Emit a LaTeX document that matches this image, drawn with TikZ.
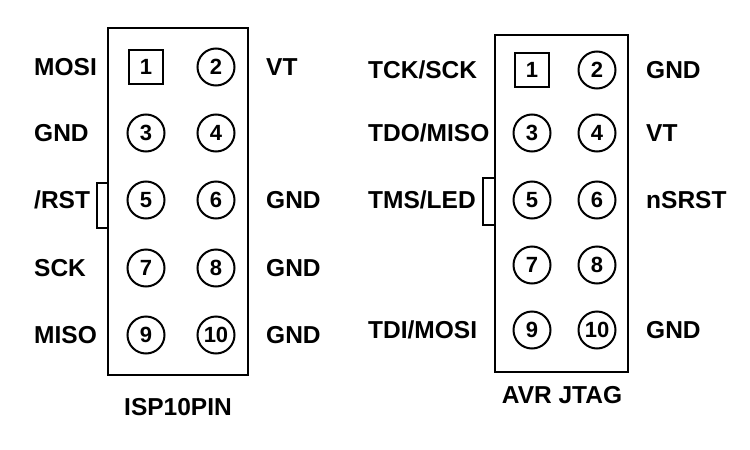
\documentclass[tikz,border=0pt]{standalone}
\usepackage{fontspec}
\setmainfont{Liberation Sans}
\usetikzlibrary{positioning}
\tikzset{
  pin/.style={circle, draw, line width=2pt, minimum size=37pt, inner sep=0pt, font=\bfseries\fontsize{22}{24}\selectfont},
  pinone/.style={rectangle, draw, line width=2pt, minimum size=34pt, inner sep=0pt, font=\bfseries\fontsize{22}{24}\selectfont},
  lbl/.style={font=\bfseries\fontsize{24.5}{26}\selectfont, inner sep=0pt},
  box/.style={line width=2pt}
}
\begin{document}
\begin{tikzpicture}[x=1pt, y=-1pt]
    \useasboundingbox (0,0) rectangle (750,450);
    % ISP10PIN
    \draw [box] (108,28) rectangle (248,375);
    \draw [box] (108,183) -- (97,183) -- (97,228) -- (108,228);
    \node [pinone] (i1) at (146,67) {1};
    \node [pin] (i2) at (216,67) {2};
    \node [pin] (i3) at (146,133) {3};
    \node [pin] (i4) at (216,133) {4};
    \node [pin] (i5) at (146,200) {5};
    \node [pin] (i6) at (216,200) {6};
    \node [pin] (i7) at (146,268) {7};
    \node [pin] (i8) at (216,268) {8};
    \node [pin] (i9) at (146,335) {9};
    \node [pin] (i10) at (216,335) {10};
    \node [lbl, anchor=west] at (34,67) {MOSI};
    \node [lbl, anchor=west] at (34,133) {GND};
    \node [lbl, anchor=west] at (34,200) {/RST};
    \node [lbl, anchor=west] at (34,268) {SCK};
    \node [lbl, anchor=west] at (34,335) {MISO};
    \node [lbl, anchor=west] at (266,67) {VT};
    \node [lbl, anchor=west] at (266,200) {GND};
    \node [lbl, anchor=west] at (266,268) {GND};
    \node [lbl, anchor=west] at (266,335) {GND};
    \node [lbl] (isp) at (178,407) {ISP10PIN};
    % AVR JTAG
    \draw [box] (495,35) rectangle (628,372);
    \draw [box] (495,178) -- (483,178) -- (483,225) -- (495,225);
    \node [pinone] (j1) at (532,70) {1};
    \node [pin] (j2) at (597,70) {2};
    \node [pin] (j3) at (532,133) {3};
    \node [pin] (j4) at (597,133) {4};
    \node [pin] (j5) at (532,200) {5};
    \node [pin] (j6) at (597,200) {6};
    \node [pin] (j7) at (532,265) {7};
    \node [pin] (j8) at (597,265) {8};
    \node [pin] (j9) at (532,330) {9};
    \node [pin] (j10) at (597,330) {10};
    \node [lbl, anchor=west] at (368,70) {TCK/SCK};
    \node [lbl, anchor=west] at (368,133) {TDO/MISO};
    \node [lbl, anchor=west] at (368,200) {TMS/LED};
    \node [lbl, anchor=west] at (368,330) {TDI/MOSI};
    \node [lbl, anchor=west] at (646,70) {GND};
    \node [lbl, anchor=west] at (646,133) {VT};
    \node [lbl, anchor=west] at (646,200) {nSRST};
    \node [lbl, anchor=west] at (646,330) {GND};
    \node [lbl] (jtag) at (562,395) {AVR JTAG};
\end{tikzpicture}
\end{document}
